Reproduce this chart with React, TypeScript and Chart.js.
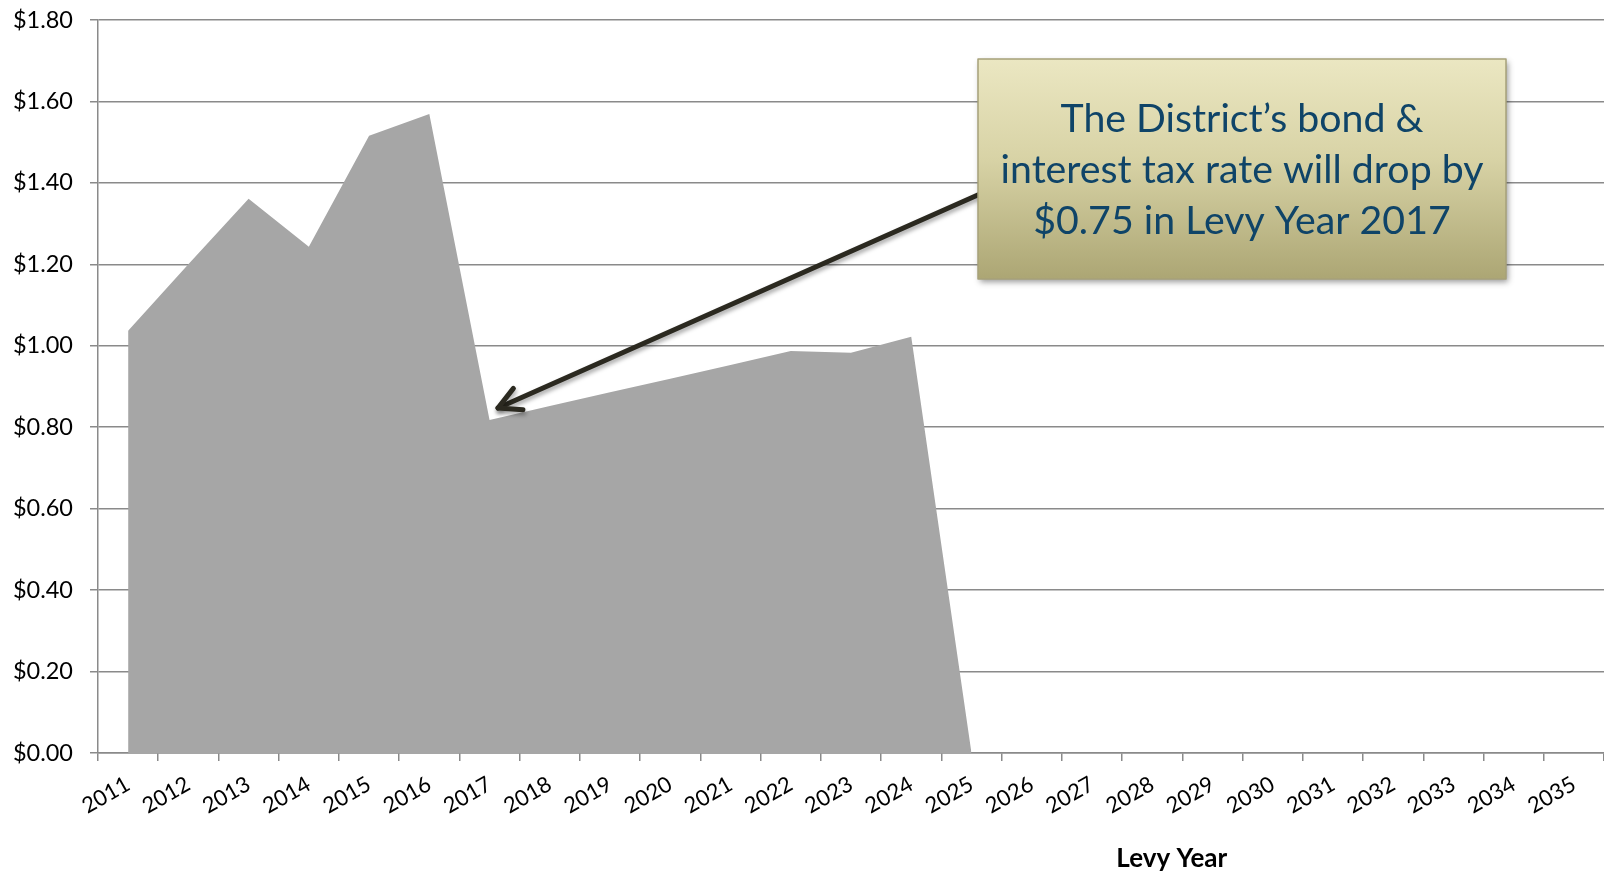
import React, { useEffect, useRef } from 'react';
import { Chart, registerables } from 'chart.js';

Chart.register(...registerables);

const years = [
  '2011', '2012', '2013', '2014', '2015', '2016', '2017', '2018', '2019', '2020',
  '2021', '2022', '2023', '2024', '2025', '2026', '2027', '2028', '2029', '2030',
  '2031', '2032', '2033', '2034', '2035',
];

const bondRate: (number | null)[] = [
  1.037, 1.2, 1.361, 1.243, 1.516, 1.569, 0.818, 0.852, 0.886, 0.919,
  0.953, 0.987, 0.983, 1.022, 0, null, null, null, null, null,
  null, null, null, null, null,
];

const yTicks = [0, 0.2, 0.4, 0.6, 0.8, 1.0, 1.2, 1.4, 1.6, 1.8];

const calloutLines = [
  'The District\u2019s bond &',
  'interest tax rate will drop by',
  '$0.75 in Levy Year 2017',
];

const axisTitle = 'Levy Year';

const FONT = 'Lato, "Open Sans", "Noto Sans", sans-serif';
const GRID = '#8a8a8a';

const calloutPlugin = {
  id: 'callout',
  afterDraw(chart: any) {
    const { ctx, scales } = chart;
    const xs = scales.x;
    const ys = scales.y;
    ctx.save();

    // Axis title
    ctx.fillStyle = '#000';
    ctx.font = `bold 26px ${FONT}`;
    ctx.textAlign = 'center';
    ctx.textBaseline = 'alphabetic';
    const ca = chart.chartArea;
    ctx.fillText(axisTitle, ca.left + 0.713 * (ca.right - ca.left), 867);

    // Arrow
    const tipX = xs.getPixelForValue(6.14);
    const tipY = ys.getPixelForValue(0.847);
    const startX = 980;
    const startY = 194;
    const ang = Math.atan2(startY - tipY, startX - tipX);
    const wing = 25;
    const half = (28 * Math.PI) / 180;
    ctx.strokeStyle = '#2b2920';
    ctx.lineWidth = 5;
    ctx.lineCap = 'round';
    ctx.lineJoin = 'round';
    ctx.shadowColor = 'rgba(0,0,0,0.35)';
    ctx.shadowBlur = 4;
    ctx.shadowOffsetX = 1;
    ctx.shadowOffsetY = 3;
    ctx.beginPath();
    ctx.moveTo(startX, startY);
    ctx.lineTo(tipX, tipY);
    ctx.stroke();
    ctx.beginPath();
    ctx.moveTo(tipX + wing * Math.cos(ang - half), tipY + wing * Math.sin(ang - half));
    ctx.lineTo(tipX, tipY);
    ctx.lineTo(tipX + wing * Math.cos(ang + half), tipY + wing * Math.sin(ang + half));
    ctx.stroke();

    // Box
    const bx = 978;
    const by = 59;
    const bw = 528;
    const bh = 220;
    const grad = ctx.createLinearGradient(0, by, 0, by + bh);
    grad.addColorStop(0, '#ebe7c2');
    grad.addColorStop(0.45, '#d8d3a6');
    grad.addColorStop(1, '#aca674');
    ctx.shadowColor = 'rgba(0,0,0,0.4)';
    ctx.shadowBlur = 6;
    ctx.shadowOffsetX = 2;
    ctx.shadowOffsetY = 3;
    ctx.fillStyle = grad;
    ctx.fillRect(bx, by, bw, bh);
    ctx.shadowColor = 'transparent';
    ctx.shadowBlur = 0;
    ctx.shadowOffsetX = 0;
    ctx.shadowOffsetY = 0;
    ctx.strokeStyle = '#a6a17a';
    ctx.lineWidth = 1.5;
    ctx.strokeRect(bx, by, bw, bh);

    // Text
    ctx.font = `40px ${FONT}`;
    const w40 = ctx.measureText(calloutLines[1]).width;
    const size = (40 * 483) / w40;
    ctx.font = `${size}px ${FONT}`;
    ctx.fillStyle = '#0f4468';
    ctx.textAlign = 'center';
    const cx = bx + bw / 2;
    calloutLines.forEach((line, i) => {
      ctx.fillText(line, cx, by + 73 + i * 51);
    });

    ctx.restore();
  },
};

export default function App() {
  const canvasRef = useRef<HTMLCanvasElement | null>(null);

  useEffect(() => {
    if (!canvasRef.current) return;
    const chart = new Chart(canvasRef.current, {
      type: 'line',
      data: {
        labels: years,
        datasets: [
          {
            data: bondRate,
            fill: 'origin',
            backgroundColor: '#a6a6a6',
            borderWidth: 0,
            borderColor: 'rgba(0,0,0,0)',
            pointRadius: 0,
            tension: 0,
          },
        ],
      },
      options: {
        animation: false,
        responsive: true,
        maintainAspectRatio: false,
        devicePixelRatio: 1,
        layout: { padding: { top: 0, right: 0, bottom: 0, left: 0 } },
        plugins: {
          legend: { display: false },
          tooltip: { enabled: false },
        },
        scales: {
          x: {
            type: 'category',
            offset: true,
            grid: {
              offset: true,
              drawOnChartArea: false,
              drawTicks: true,
              tickLength: 8,
              color: GRID,
              lineWidth: 1.5,
            },
            border: { color: GRID, width: 1.5 },
            ticks: {
              autoSkip: false,
              minRotation: 30,
              maxRotation: 30,
              padding: 10,
              color: '#000',
              font: { family: FONT, size: 22 },
            },
            afterFit(scale: any) {
              scale.height = 122;
            },
          },
          y: {
            min: 0,
            max: 1.8,
            afterBuildTicks(scale: any) {
              scale.ticks = yTicks.map((v) => ({ value: v }));
            },
            grid: {
              color: GRID,
              lineWidth: 1.5,
              tickLength: 8,
            },
            border: { color: GRID, width: 1.5 },
            ticks: {
              padding: 17,
              color: '#000',
              font: { family: FONT, size: 23.5 },
              callback: (v: any) => '$' + Number(v).toFixed(2),
            },
            afterFit(scale: any) {
              scale.width = 98;
              scale.paddingTop = 20;
              scale.paddingBottom = 0;
            },
          },
        },
      },
      plugins: [calloutPlugin],
    });
    return () => chart.destroy();
  }, []);

  return (
    <div style={{ position: 'absolute', left: 0, top: 0, width: '1604px', height: '875px', background: '#fff' }}>
      <canvas ref={canvasRef} />
    </div>
  );
}
